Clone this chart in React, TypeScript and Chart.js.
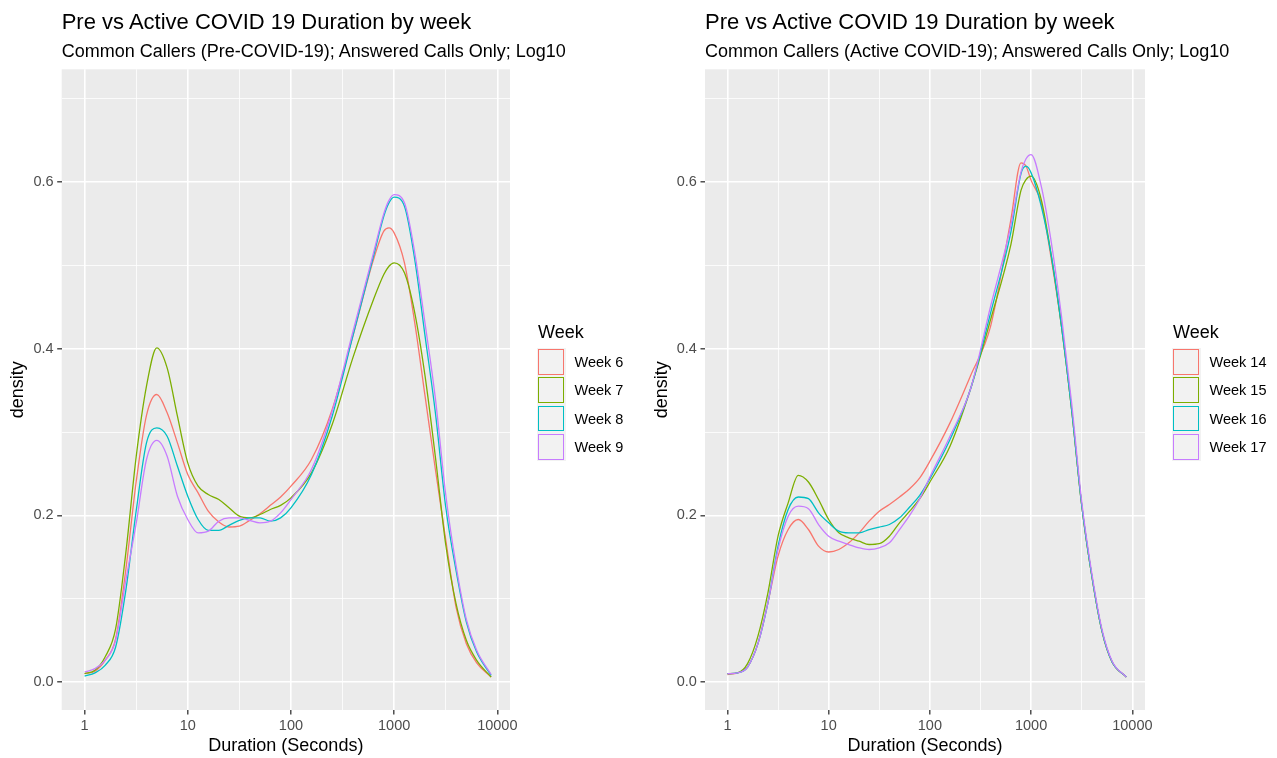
import React, { useEffect, useRef } from "react";
import { Chart, registerables } from "chart.js";

Chart.register(...registerables);

// ---------- data ----------
const DURATION_SECONDS = [
  1, 1.26, 1.58, 2.0, 2.51, 3.16, 3.98, 5.01, 6.31, 7.94,
  10, 12.6, 15.8, 20.0, 25.1, 31.6, 39.8, 50.1, 63.1, 79.4,
  100, 158, 251, 398, 631, 794, 891, 1000,
  1259, 1585, 1995, 2512, 3162, 3981, 5012, 6310, 8710,
];

const PRE_WEEKS = ["Week 6", "Week 7", "Week 8", "Week 9"];
const ACTIVE_WEEKS = ["Week 14", "Week 15", "Week 16", "Week 17"];
const WEEK_COLORS = ["#F8766D", "#7CAE00", "#00BFC4", "#C77CFF"];

const WEEK_6 = [0.010, 0.013, 0.026, 0.052, 0.135, 0.240, 0.320, 0.345, 0.323, 0.287, 0.249, 0.227, 0.205, 0.192, 0.186, 0.187, 0.194, 0.202, 0.212, 0.222, 0.235, 0.267, 0.327, 0.415, 0.507, 0.541, 0.545, 0.539, 0.503, 0.431, 0.343, 0.255, 0.171, 0.090, 0.046, 0.023, 0.006];
const WEEK_7 = [0.010, 0.014, 0.030, 0.064, 0.155, 0.270, 0.355, 0.401, 0.377, 0.319, 0.263, 0.235, 0.225, 0.219, 0.209, 0.199, 0.197, 0.201, 0.207, 0.212, 0.221, 0.251, 0.309, 0.389, 0.459, 0.489, 0.499, 0.503, 0.491, 0.443, 0.367, 0.270, 0.165, 0.094, 0.050, 0.026, 0.006];
const WEEK_8 = [0.007, 0.011, 0.020, 0.042, 0.110, 0.205, 0.287, 0.305, 0.295, 0.259, 0.223, 0.195, 0.182, 0.182, 0.188, 0.194, 0.197, 0.197, 0.193, 0.197, 0.209, 0.249, 0.319, 0.415, 0.511, 0.559, 0.575, 0.582, 0.571, 0.507, 0.415, 0.323, 0.210, 0.134, 0.072, 0.036, 0.008];
const WEEK_9 = [0.012, 0.016, 0.026, 0.050, 0.122, 0.190, 0.267, 0.290, 0.271, 0.223, 0.195, 0.179, 0.181, 0.193, 0.197, 0.197, 0.194, 0.191, 0.193, 0.203, 0.219, 0.255, 0.325, 0.420, 0.515, 0.562, 0.578, 0.585, 0.575, 0.515, 0.430, 0.340, 0.225, 0.140, 0.075, 0.038, 0.009];

const WEEK_14 = [0.009, 0.011, 0.018, 0.046, 0.095, 0.151, 0.183, 0.195, 0.183, 0.163, 0.156, 0.159, 0.167, 0.179, 0.193, 0.205, 0.213, 0.222, 0.232, 0.245, 0.265, 0.311, 0.367, 0.427, 0.555, 0.623, 0.619, 0.602, 0.575, 0.507, 0.427, 0.327, 0.212, 0.127, 0.061, 0.024, 0.006];
const WEEK_15 = [0.010, 0.011, 0.022, 0.055, 0.107, 0.175, 0.215, 0.248, 0.240, 0.219, 0.195, 0.179, 0.173, 0.169, 0.165, 0.166, 0.175, 0.191, 0.205, 0.220, 0.240, 0.283, 0.351, 0.435, 0.525, 0.590, 0.603, 0.607, 0.579, 0.511, 0.427, 0.327, 0.212, 0.127, 0.061, 0.024, 0.006];
const WEEK_16 = [0.010, 0.011, 0.018, 0.046, 0.095, 0.163, 0.207, 0.222, 0.220, 0.203, 0.191, 0.181, 0.179, 0.179, 0.183, 0.186, 0.189, 0.197, 0.210, 0.224, 0.244, 0.291, 0.351, 0.443, 0.540, 0.610, 0.619, 0.611, 0.571, 0.511, 0.427, 0.327, 0.212, 0.127, 0.061, 0.024, 0.006];
const WEEK_17 = [0.010, 0.011, 0.018, 0.046, 0.095, 0.159, 0.199, 0.211, 0.208, 0.189, 0.175, 0.169, 0.165, 0.161, 0.159, 0.161, 0.167, 0.183, 0.200, 0.220, 0.246, 0.295, 0.351, 0.451, 0.548, 0.612, 0.628, 0.633, 0.595, 0.527, 0.439, 0.335, 0.216, 0.130, 0.063, 0.025, 0.006];

const X_TICKS = [1, 3.162, 10, 31.62, 100, 316.2, 1000, 3162, 10000];
const X_TICK_LABELS = ["1", "", "10", "", "100", "", "1000", "", "10000"];
const Y_TICKS = [0, 0.1, 0.2, 0.3, 0.4, 0.5, 0.6, 0.7];
const Y_TICK_LABELS = ["0.0", "", "0.2", "", "0.4", "", "0.6", ""];

const TITLE = "Pre vs Active COVID 19 Duration by week";
const PRE_SUBTITLE = "Common Callers (Pre-COVID-19); Answered Calls Only; Log10";
const ACTIVE_SUBTITLE = "Common Callers (Active COVID-19); Answered Calls Only; Log10";

// ---------- styling ----------
const FONT = "'Liberation Sans', Arial, sans-serif";
const H = 758;
const PLOT_TOP = 69.3;
const PLOT_BOTTOM = 710;

const panelBg = {
  id: "panelBg",
  beforeDraw(chart: any) {
    const { ctx, chartArea } = chart;
    ctx.save();
    ctx.fillStyle = "#EBEBEB";
    ctx.fillRect(chartArea.left, chartArea.top, chartArea.right - chartArea.left, chartArea.bottom - chartArea.top);
    ctx.restore();
  },
};

type PanelProps = {
  left: number;
  width: number;
  axisWidth: number;
  plotRight: number;
  xMin: number;
  xMax: number;
  yTitlePad: number;
  weeks: string[];
  series: number[][];
  subtitle: string;
  legendLeft: number;
};

function Panel(p: PanelProps) {
  const ref = useRef<HTMLCanvasElement>(null);

  useEffect(() => {
    const gridWidth = (c: any) => (c.index % 2 === 0 ? 1.6 : 0.8);
    const tickColor = (c: any) => (c.index % 2 === 0 ? "#333333" : "rgba(0,0,0,0)");
    const chart = new Chart(ref.current as HTMLCanvasElement, {
      type: "line",
      data: {
        datasets: p.series.map((ys, i) => ({
          label: p.weeks[i],
          data: DURATION_SECONDS.map((x, j) => ({ x, y: ys[j] })),
          borderColor: WEEK_COLORS[i],
          backgroundColor: WEEK_COLORS[i],
          borderWidth: 1.3,
          pointRadius: 0,
          fill: false,
          cubicInterpolationMode: "monotone" as const,
          order: p.series.length - 1 - i,
        })),
      },
      options: {
        animation: false,
        responsive: false,
        maintainAspectRatio: false,
        devicePixelRatio: 1,
        events: [],
        layout: { padding: { left: 0, top: PLOT_TOP, right: p.width - p.plotRight, bottom: 0 } },
        plugins: {
          legend: { display: false },
          tooltip: { enabled: false },
          title: { display: false },
        },
        scales: {
          x: {
            type: "logarithmic",
            min: p.xMin,
            max: p.xMax,
            afterBuildTicks: (s: any) => {
              s.ticks = X_TICKS.map((v) => ({ value: v }));
            },
            afterFit: (s: any) => {
              s.height = H - PLOT_BOTTOM;
            },
            ticks: {
              autoSkip: false,
              maxRotation: 0,
              minRotation: 0,
              padding: 2.8,
              color: "#4D4D4D",
              font: { family: FONT, size: 14.5 },
              callback: (_v: any, i: number) => X_TICK_LABELS[i],
            },
            grid: {
              color: "#FFFFFF",
              lineWidth: gridWidth,
              tickLength: 4.5,
              tickWidth: 1.3,
              tickColor,
            },
            border: { display: false },
            title: {
              display: true,
              text: "Duration (Seconds)",
              color: "#000000",
              font: { family: FONT, size: 18 },
              padding: { top: 0, bottom: 0.7 },
            },
          },
          y: {
            type: "linear",
            min: -0.0336,
            max: 0.7353,
            afterBuildTicks: (s: any) => {
              s.ticks = Y_TICKS.map((v) => ({ value: v }));
            },
            afterFit: (s: any) => {
              s.width = p.axisWidth;
            },
            ticks: {
              autoSkip: false,
              padding: 3.6,
              color: "#4D4D4D",
              font: { family: FONT, size: 14.5 },
              callback: (_v: any, i: number) => Y_TICK_LABELS[i],
            },
            grid: {
              color: "#FFFFFF",
              lineWidth: gridWidth,
              tickLength: 4.5,
              tickWidth: 1.3,
              tickColor,
            },
            border: { display: false },
            title: {
              display: true,
              text: "density",
              color: "#000000",
              font: { family: FONT, size: 18 },
              padding: { top: p.yTitlePad, bottom: 0 },
            },
          },
        },
      },
      plugins: [panelBg],
    } as any);
    return () => chart.destroy();
  }, []);

  const plotLeft = p.left + p.axisWidth;
  const keyTop = 348.1;
  const rowH = 28.27;

  return (
    <>
      <canvas
        ref={ref}
        width={p.width}
        height={H}
        style={{ position: "absolute", left: p.left, top: 0, width: p.width, height: H }}
      />
      <div style={{ position: "absolute", left: plotLeft, top: 10.9, fontFamily: FONT, fontSize: 22, lineHeight: "22px", color: "#000", whiteSpace: "nowrap" }}>
        {TITLE}
      </div>
      <div style={{ position: "absolute", left: plotLeft, top: 42.3, fontFamily: FONT, fontSize: 18, lineHeight: "18px", color: "#000", whiteSpace: "nowrap" }}>
        {p.subtitle}
      </div>
      <div style={{ position: "absolute", left: p.legendLeft + 1, top: 322.9, fontFamily: FONT, fontSize: 18, lineHeight: "18px", color: "#000", whiteSpace: "nowrap" }}>
        Week
      </div>
      {p.weeks.map((w, i) => (
        <div key={w} style={{ position: "absolute", left: p.legendLeft, top: keyTop + i * rowH, height: rowH, display: "flex", alignItems: "center" }}>
          <div style={{ width: 28.5, height: rowH, background: "#F2F2F2", position: "relative" }}>
            <div style={{ position: "absolute", left: 1, top: 1, right: 1.5, bottom: 1.5, border: `1.4px solid ${WEEK_COLORS[i]}`, boxSizing: "border-box" }} />
          </div>
          <div style={{ marginLeft: 9, fontFamily: FONT, fontSize: 14.5, lineHeight: "14.5px", color: "#000", whiteSpace: "nowrap" }}>
            {w}
          </div>
        </div>
      ))}
    </>
  );
}

export default function App() {
  return (
    <div style={{ position: "absolute", left: 0, top: 0, width: 1277, height: H, background: "#FFFFFF", overflow: "hidden" }}>
      <Panel
        left={0}
        width={640}
        axisWidth={61.7}
        plotRight={510}
        xMin={0.618}
        xMax={13274}
        yTitlePad={7.6}
        weeks={PRE_WEEKS}
        series={[WEEK_6, WEEK_7, WEEK_8, WEEK_9]}
        subtitle={PRE_SUBTITLE}
        legendLeft={537}
      />
      <Panel
        left={640}
        width={637}
        axisWidth={65}
        plotRight={505}
        xMin={0.6286}
        xMax={13335}
        yTitlePad={11}
        weeks={ACTIVE_WEEKS}
        series={[WEEK_14, WEEK_15, WEEK_16, WEEK_17]}
        subtitle={ACTIVE_SUBTITLE}
        legendLeft={1172}
      />
    </div>
  );
}
